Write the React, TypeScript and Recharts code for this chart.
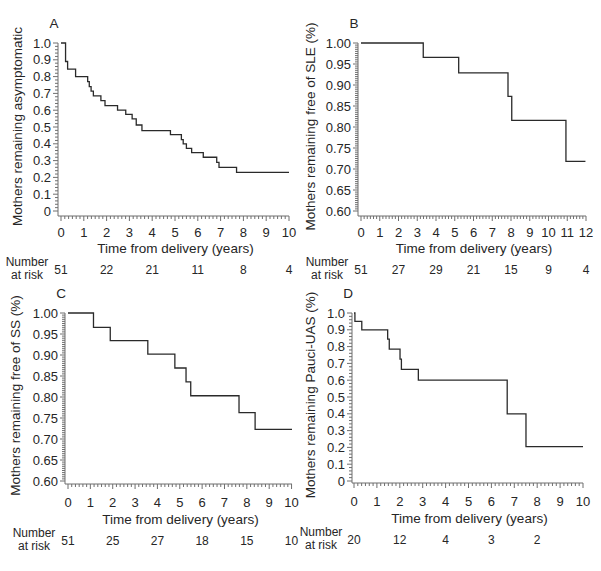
import { LineChart, Line, XAxis, YAxis } from "recharts";

// Panel A: mothers remaining asymptomatic
const timeA = [0, 0.2, 0.29, 0.64, 1.17, 1.24, 1.32, 1.42, 1.75, 1.93, 2.48, 2.84, 3.12, 3.3, 3.55, 4.8, 5.28, 5.36, 5.5, 5.73, 6.24, 6.83, 6.93, 7.7, 10];
const survA = [1, 0.89, 0.845, 0.8, 0.77, 0.74, 0.714, 0.685, 0.657, 0.627, 0.6, 0.575, 0.548, 0.512, 0.478, 0.455, 0.425, 0.4, 0.373, 0.347, 0.32, 0.29, 0.26, 0.23, 0.23];
const riskTimesA = [0, 2, 4, 6, 8, 10];
const riskA = [51, 22, 21, 11, 8, 4];

// Panel B: free of SLE
const timeB = [0, 3.32, 5.21, 7.84, 8.04, 10.93, 11.97];
const survB = [1, 0.966, 0.929, 0.873, 0.816, 0.718, 0.718];
const riskTimesB = [0, 2, 4, 6, 8, 10, 12];
const riskB = [51, 27, 29, 21, 15, 9, 4];

// Panel C: free of SS
const timeC = [0, 1.14, 1.89, 3.57, 4.78, 5.28, 5.49, 7.65, 8.37, 10.02];
const survC = [1, 0.966, 0.934, 0.902, 0.869, 0.836, 0.803, 0.763, 0.723, 0.723];
const riskTimesC = [0, 2, 4, 6, 8, 10];
const riskC = [51, 25, 27, 18, 15, 10];

// Panel D: remaining Pauci-UAS
const timeD = [0, 0.04, 0.34, 1.47, 1.54, 2.01, 2.07, 2.81, 6.69, 7.51, 10];
const survD = [1, 0.95, 0.9, 0.845, 0.785, 0.725, 0.665, 0.6, 0.4, 0.205, 0.205];
const riskTimesD = [0, 2, 4, 6, 8];
const riskD = [20, 12, 4, 3, 2];

// tick labels
const xTicks10 = [0, 1, 2, 3, 4, 5, 6, 7, 8, 9, 10];
const xTicks12 = [0, 1, 2, 3, 4, 5, 6, 7, 8, 9, 10, 11, 12];
const yTicksFull = [0, 0.1, 0.2, 0.3, 0.4, 0.5, 0.6, 0.7, 0.8, 0.9, 1.0];
const yTicksTop = [0.6, 0.65, 0.7, 0.75, 0.8, 0.85, 0.9, 0.95, 1.0];

const FONT = "'Liberation Sans', Arial, sans-serif";
const AXIS = "#6f6f6f";
const TEXT = "#262626";

const near = (v: number, list: number[]) => list.findIndex((m) => Math.abs(m - v) < 1e-6);

type Box = {
  left: number; top: number; width: number; height: number;
  margin: { top: number; right: number; bottom: number; left: number };
  padX: number; padY: number;
  tickDy: number; titleDy: number; riskDy: number; numDy: number; atRiskDy: number;
  yTitleDx: number;
};

type PanelProps = {
  letter: string;
  yTitle: string;
  times: number[];
  surv: number[];
  xTicks: number[];
  yTicks: number[];
  yDigits: number;
  yMinorStep: number;
  riskTimes: number[];
  riskCounts: number[];
  box: Box;
};

const Panel = ({ letter, yTitle, times, surv, xTicks, yTicks, yDigits, yMinorStep, riskTimes, riskCounts, box }: PanelProps) => {
  const data = times.map((t, i) => ({ t, s: surv[i] }));
  const xMax = xTicks[xTicks.length - 1];
  const yMin = yTicks[0];
  const yMax = yTicks[yTicks.length - 1];

  // minor ticks every 2 months on x, small steps on y
  const xAll: number[] = [];
  for (let i = 0; i <= xMax * 6; i++) xAll.push(Math.round((i / 6) * 10000) / 10000);
  const yAll: number[] = [];
  const nY = Math.round((yMax - yMin) / yMinorStep);
  for (let i = 0; i <= nY; i++) yAll.push(Math.round((yMin + i * yMinorStep) * 10000) / 10000);

  const renderXTick = (p: any) => {
    const { x, y, payload } = p;
    const v = payload.value;
    const major = near(v, xTicks) >= 0;
    const r = near(v, riskTimes);
    return (
      <g>
        <line x1={x} x2={x} y1={y} y2={y + (major ? 5 : 3)} stroke={AXIS} strokeWidth={1} />
        {major && (
          <text x={x} y={y + box.tickDy} textAnchor="middle" dominantBaseline="central" fontSize={13} fill={TEXT} fontFamily={FONT}>
            {Math.round(v)}
          </text>
        )}
        {r >= 0 && (
          <text x={x} y={y + box.riskDy} textAnchor="middle" dominantBaseline="central" fontSize={12} fill={TEXT} fontFamily={FONT}>
            {riskCounts[r]}
          </text>
        )}
      </g>
    );
  };

  const renderYTick = (p: any) => {
    const { x, y, payload } = p;
    const v = payload.value;
    const major = near(v, yTicks) >= 0;
    return (
      <g>
        <line x1={x - (major ? 5 : 3)} x2={x} y1={y} y2={y} stroke={AXIS} strokeWidth={1} />
        {major && (
          <text x={x - 7} y={y} textAnchor="end" dominantBaseline="central" fontSize={13} fill={TEXT} fontFamily={FONT}>
            {v === 0 ? "0" : v.toFixed(yDigits)}
          </text>
        )}
      </g>
    );
  };

  const renderXLabel = (p: any) => {
    const { x, y, width } = p.viewBox;
    return (
      <g fontFamily={FONT} fill={TEXT}>
        <text x={x + width / 2 + 2} y={y + box.titleDy} textAnchor="middle" dominantBaseline="central" fontSize={13.5}>
          Time from delivery (years)
        </text>
        <text x={x - 31} y={y + box.numDy} textAnchor="middle" dominantBaseline="central" fontSize={12}>
          Number
        </text>
        <text x={x - 31} y={y + box.atRiskDy} textAnchor="middle" dominantBaseline="central" fontSize={12}>
          at risk
        </text>
      </g>
    );
  };

  const renderYLabel = (p: any) => {
    const { x, y, width, height } = p.viewBox;
    const ax = x + width;
    const cx = ax + box.yTitleDx;
    const cy = y + height / 2 - 3;
    return (
      <g fontFamily={FONT} fill={TEXT}>
        <text x={cx} y={cy} transform={`rotate(-90 ${cx} ${cy})`} textAnchor="middle" dominantBaseline="central" fontSize={13.5}>
          {yTitle}
        </text>
        <text x={ax - 4} y={y - 20} textAnchor="middle" dominantBaseline="central" fontSize={13.5}>
          {letter}
        </text>
      </g>
    );
  };

  return (
    <div style={{ position: "absolute", left: box.left, top: box.top }}>
      <LineChart width={box.width} height={box.height} data={data} margin={box.margin}>
        <XAxis
          dataKey="t"
          type="number"
          domain={[0, xMax]}
          ticks={xAll}
          interval={0}
          tickSize={0}
          tickMargin={0}
          tickLine={false}
          axisLine={{ stroke: AXIS }}
          tick={renderXTick}
          padding={{ left: box.padX, right: 0 }}
          height={60}
          label={renderXLabel}
        />
        <YAxis
          type="number"
          domain={[yMin, yMax]}
          ticks={yAll}
          interval={0}
          tickSize={0}
          tickMargin={0}
          tickLine={false}
          axisLine={{ stroke: AXIS }}
          tick={renderYTick}
          padding={{ top: 0, bottom: box.padY }}
          width={40}
          label={renderYLabel}
        />
        <Line type="stepAfter" dataKey="s" stroke="#2a2a2a" strokeWidth={1.3} dot={false} isAnimationActive={false} />
      </LineChart>
    </div>
  );
};

const topRow = { tickDy: 16, titleDy: 32.5, riskDy: 53.5, numDy: 45.5, atRiskDy: 58.5 };
const bottomRow = { tickDy: 18, titleDy: 35.5, riskDy: 56.5, numDy: 48.5, atRiskDy: 61.5 };

export default function App() {
  return (
    <div style={{ position: "absolute", left: 0, top: 0, width: 601, height: 571, background: "#fff" }}>
      <Panel
        letter="A"
        yTitle="Mothers remaining asymptomatic"
        times={timeA}
        surv={survA}
        xTicks={xTicks10}
        yTicks={yTicksFull}
        yDigits={1}
        yMinorStep={0.02}
        riskTimes={riskTimesA}
        riskCounts={riskA}
        box={{ left: 0, top: 0, width: 300, height: 290, margin: { top: 43, right: 11, bottom: 14, left: 18 }, padX: 3, padY: 5, yTitleDx: -41, ...topRow }}
      />
      <Panel
        letter="B"
        yTitle="Mothers remaining free of SLE (%)"
        times={timeB}
        surv={survB}
        xTicks={xTicks12}
        yTicks={yTicksTop}
        yDigits={2}
        yMinorStep={0.005}
        riskTimes={riskTimesB}
        riskCounts={riskB}
        box={{ left: 300, top: 0, width: 301, height: 290, margin: { top: 43, right: 15, bottom: 14, left: 18 }, padX: 3, padY: 5, yTitleDx: -48, ...topRow }}
      />
      <Panel
        letter="C"
        yTitle="Mothers remaining free of SS (%)"
        times={timeC}
        surv={survC}
        xTicks={xTicks10}
        yTicks={yTicksTop}
        yDigits={2}
        yMinorStep={0.005}
        riskTimes={riskTimesC}
        riskCounts={riskC}
        box={{ left: 0, top: 280, width: 300, height: 291, margin: { top: 33, right: 8, bottom: 27, left: 25 }, padX: 3, padY: 3, yTitleDx: -50, ...bottomRow }}
      />
      <Panel
        letter="D"
        yTitle="Mothers remaining Pauci-UAS (%)"
        times={timeD}
        surv={survD}
        xTicks={xTicks10}
        yTicks={yTicksFull}
        yDigits={1}
        yMinorStep={0.02}
        riskTimes={riskTimesD}
        riskCounts={riskD}
        box={{ left: 300, top: 280, width: 301, height: 291, margin: { top: 33, right: 18, bottom: 28, left: 12 }, padX: 2, padY: 2, yTitleDx: -42, ...bottomRow }}
      />
    </div>
  );
}
